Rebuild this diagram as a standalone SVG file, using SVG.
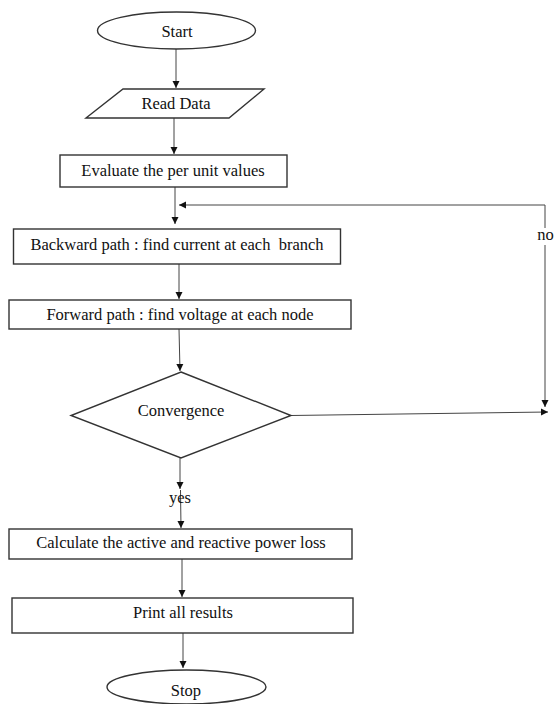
<svg xmlns="http://www.w3.org/2000/svg" width="555" height="704" viewBox="0 0 555 704">
<defs>
<marker id="ah" markerWidth="8" markerHeight="8" refX="7" refY="4" orient="auto" markerUnits="userSpaceOnUse">
<path d="M0,0.5 L7,4 L0,7.5 Z" fill="#111"/>
</marker>
<style>
.shape{fill:#fff;stroke:#333;stroke-width:1.4}
.conn{fill:none;stroke:#444;stroke-width:1}
text{font-family:"Liberation Serif","Times New Roman",serif;font-size:16.5px;fill:#111;text-anchor:middle;white-space:pre}
</style>
</defs>
<rect width="555" height="704" fill="#fff"/>
<g id="connectors">
<line class="conn" x1="176" y1="49" x2="176" y2="88" marker-end="url(#ah)"/>
<line class="conn" x1="174" y1="118" x2="174" y2="154" marker-end="url(#ah)"/>
<line class="conn" x1="175" y1="187" x2="175" y2="224" marker-end="url(#ah)"/>
<polyline class="conn" points="545,228 545,205 179,205" marker-end="url(#ah)"/>
<line class="conn" x1="545" y1="245" x2="545" y2="407" marker-end="url(#ah)"/>
<line class="conn" x1="179" y1="264" x2="179" y2="299" marker-end="url(#ah)"/>
<line class="conn" x1="179" y1="329" x2="180" y2="371" marker-end="url(#ah)"/>
<line class="conn" x1="291" y1="415.5" x2="548" y2="412" marker-end="url(#ah)"/>
<line class="conn" x1="180" y1="458" x2="180" y2="489" marker-end="url(#ah)"/>
<line class="conn" x1="180.5" y1="490" x2="181" y2="528" marker-end="url(#ah)"/>
<line class="conn" x1="182" y1="559" x2="182" y2="597" marker-end="url(#ah)"/>
<line class="conn" x1="183" y1="633" x2="183" y2="668" marker-end="url(#ah)"/>
<text x="545.5" y="240">no</text>
<text x="180" y="503">yes</text>
</g>
<g id="start">
<ellipse class="shape" cx="176.5" cy="30.5" rx="79" ry="18.5"/>
<text x="177" y="37">Start</text>
</g>
<g id="read-data">
<polygon class="shape" points="123,89 264,89 229,118 86,118"/>
<text x="176" y="109">Read Data</text>
</g>
<g id="evaluate">
<rect class="shape" x="60" y="155" width="227" height="32"/>
<text x="173" y="176">Evaluate the per unit values</text>
</g>
<g id="backward">
<rect class="shape" x="13.5" y="229" width="327" height="35"/>
<text x="177" y="250">Backward path : find current at each  branch</text>
</g>
<g id="forward">
<rect class="shape" x="9" y="300" width="342" height="29"/>
<text x="180" y="320">Forward path : find voltage at each node</text>
</g>
<g id="convergence">
<polygon class="shape" points="181,372 291,415.5 181,458 71,415.5"/>
<text x="181" y="416">Convergence</text>
</g>
<g id="calculate">
<rect class="shape" x="9" y="529" width="343" height="30"/>
<text x="181" y="548">Calculate the active and reactive power loss</text>
</g>
<g id="print">
<rect class="shape" x="12" y="598" width="341" height="35"/>
<text x="183" y="618">Print all results</text>
</g>
<g id="stop">
<ellipse class="shape" cx="186.5" cy="687" rx="79.5" ry="17"/>
<text x="186" y="696">Stop</text>
</g>
</svg>
